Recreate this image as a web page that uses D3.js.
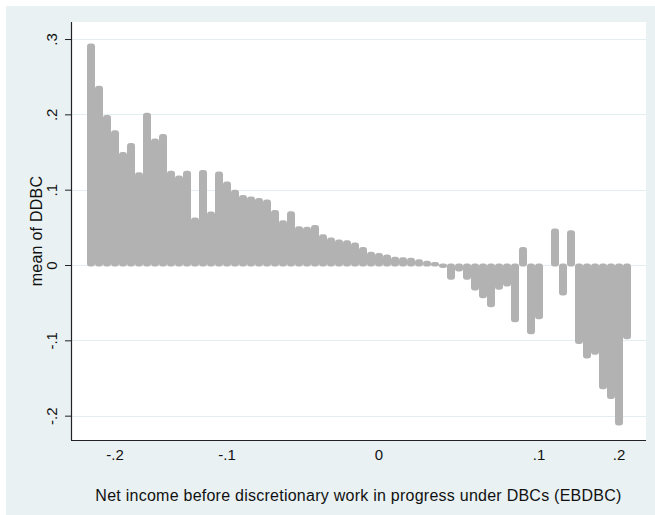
<!DOCTYPE html>
<html>
<head>
<meta charset="utf-8">
<script src="https://cdn.jsdelivr.net/npm/d3@7"></script>
<style>
  html, body { margin: 0; padding: 0; background: #ffffff; }
  svg { display: block; }
  text { font-family: "Liberation Sans", Arial, Helvetica, sans-serif; fill: #111; }
</style>
</head>
<body>
<svg id="chart" width="655" height="515"></svg>
<script>
// ---- data (bins of EBDBC, left to right) ----
const categories = d3.range(1, 69); // 68 bins
const meanDDBC = [
  0.292, 0.236, 0.197, 0.177, 0.148, 0.160, 0.121, 0.200, 0.166, 0.172,
  0.123, 0.117, 0.123, 0.061, 0.124, 0.069, 0.122, 0.109, 0.098, 0.091,
  0.089, 0.087, 0.085, 0.071, 0.0575, 0.0695, 0.0496, 0.0487, 0.051, 0.039,
  0.0345, 0.032, 0.031, 0.028, 0.022, 0.0155, 0.014, 0.012, 0.009, 0.0084,
  0.0075, 0.0058, 0.0035, 0.002, -0.002, -0.0177, -0.0066, -0.0177, -0.032, -0.042,
  -0.054, -0.031, -0.0266, -0.074, 0.022, -0.090, -0.070, null, 0.0465, -0.0385,
  0.044, -0.103, -0.122, -0.117, -0.163, -0.176, -0.211, -0.0965
];
const xTickCats = [4, 18, 37, 57, 67];
const xTickLabels = ["-.2", "-.1", "0", ".1", ".2"];
const yTicks = [-0.2, -0.1, 0, 0.1, 0.2, 0.3];
const yTickLabels = ["-.2", "-.1", "0", ".1", ".2", ".3"];
const xTitle = "Net income before discretionary work in progress under DBCs (EBDBC)";
const yTitle = "mean of DDBC";

const data = categories.map((c, i) => ({ cat: c, v: meanDDBC[i] }));

// ---- layout ----
const W = 655, H = 515;
const plot = { left: 71, right: 646, top: 22, bottom: 440 };

const svg = d3.select("#chart");
svg.append("rect").attr("x", 6).attr("y", 6).attr("width", W - 6).attr("height", H - 6)
  .attr("fill", "#e9f1f3");
svg.append("rect").attr("x", plot.left).attr("y", plot.top)
  .attr("width", plot.right - plot.left).attr("height", plot.bottom - plot.top)
  .attr("fill", "#ffffff");

const x = d3.scaleBand().domain(categories).range([87, 631]).paddingInner(0).paddingOuter(0);
const y = d3.scaleLinear().domain([-0.2323, 0.3226]).range([plot.bottom, plot.top]);

// gridlines
svg.append("g").selectAll("line").data(yTicks).join("line")
  .attr("x1", plot.left).attr("x2", plot.right)
  .attr("y1", d => Math.round(y(d)) + 0.5).attr("y2", d => Math.round(y(d)) + 0.5)
  .attr("stroke", "#e3eef0").attr("stroke-width", 1);

// bars
svg.append("g").selectAll("rect").data(data.filter(d => d.v !== null)).join("rect")
  .attr("x", d => x(d.cat))
  .attr("width", x.bandwidth())
  .attr("y", d => Math.min(y(d.v), y(0)) - 1.5)
  .attr("height", d => Math.abs(y(d.v) - y(0)) + 3)
  .attr("rx", 3).attr("ry", 3)
  .attr("fill", "#b2b2b2");

// y axis
const yAxis = d3.axisLeft(y).tickValues(yTicks).tickFormat((d, i) => yTickLabels[i])
  .tickSize(6).tickPadding(3);
const gy = svg.append("g").attr("transform", `translate(${plot.left},0)`).call(yAxis);
gy.select(".domain").remove();
gy.selectAll(".tick line").attr("stroke", "#222");
gy.selectAll(".tick text")
  .attr("font-size", 15).attr("fill", "#111")
  .attr("x", null).attr("dy", null)
  .attr("text-anchor", "middle")
  .attr("transform", "translate(-14,0) rotate(-90)");
svg.append("line").attr("x1", plot.left + 0.5).attr("x2", plot.left + 0.5)
  .attr("y1", plot.top).attr("y2", plot.bottom).attr("stroke", "#222").attr("stroke-width", 1.2);

// x axis
const xAxis = d3.axisBottom(x).tickValues(xTickCats)
  .tickFormat(d => xTickLabels[xTickCats.indexOf(d)]).tickSize(0).tickPadding(0);
const gx = svg.append("g").attr("transform", `translate(0,${plot.bottom})`).call(xAxis);
gx.select(".domain").remove();
gx.selectAll(".tick text").attr("font-size", 15).attr("fill", "#111").attr("dy", null).attr("y", 20);
svg.append("line").attr("x1", plot.left).attr("x2", plot.right)
  .attr("y1", plot.bottom + 0.5).attr("y2", plot.bottom + 0.5).attr("stroke", "#222").attr("stroke-width", 1.2);

// titles
svg.append("text").attr("x", (plot.left + plot.right) / 2).attr("y", 501)
  .attr("text-anchor", "middle").attr("font-size", 16).attr("letter-spacing", 0.25)
  .attr("fill", "#222").text(xTitle);
svg.append("text").attr("transform", `translate(42,${(plot.top + plot.bottom) / 2}) rotate(-90)`)
  .attr("text-anchor", "middle").attr("font-size", 16).attr("letter-spacing", 0.25)
  .attr("fill", "#222").text(yTitle);
</script>
</body>
</html>
